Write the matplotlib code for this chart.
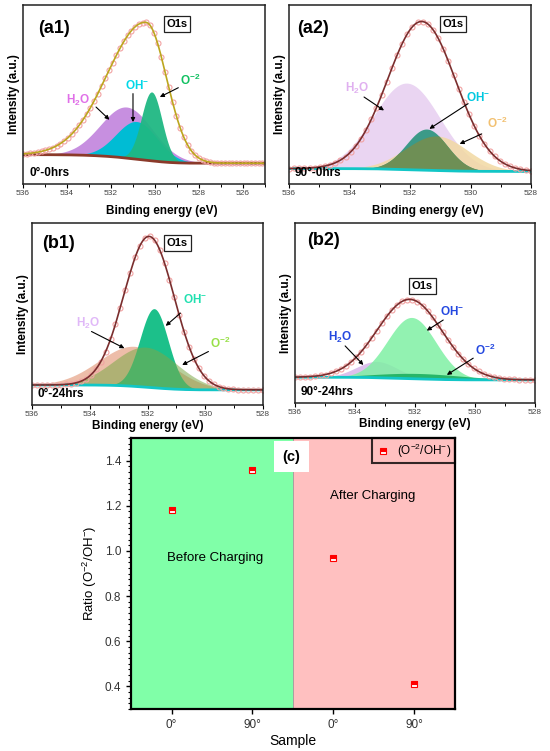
import numpy as np
import matplotlib
matplotlib.use('Agg')
import matplotlib.pyplot as plt
from matplotlib.ticker import MultipleLocator

plt.rcParams['font.family'] = ['Liberation Sans', 'DejaVu Sans']
plt.rcParams['mathtext.fontset'] = 'custom'
plt.rcParams['mathtext.rm'] = 'Liberation Sans'
plt.rcParams['mathtext.bf'] = 'Liberation Sans:bold'
plt.rcParams['mathtext.default'] = 'regular'

# O1s peak fits: order H2O, OH-, O-2
# centre (eV), height (a.u. above baseline), fwhm (eV)
a1_centre = [531.29, 530.83, 530.15]
a1_height = [28.5, 21, 38.5]
a1_fwhm = [2.8, 2.2, 1.1]
# envelope: centre, height, width on high-BE side, width on low-BE side
a1_envelope = [530.4, 77, 4.1, 2.2]
a1_baseline = [16.4, 11.6]

a2_centre = [532.11, 531.45, 531.12]
a2_height = [48.3, 23, 19.3]
a2_fwhm = [2.6, 1.6, 2.4]
a2_envelope = [531.61, 83, 2.65, 2.65]
a2_baseline = [8.6, 7.0]

b1_centre = [532.45, 531.77, 532.06]
b1_height = [22, 43.5, 22]
b1_fwhm = [2.9, 1.15, 2.6]
b1_envelope = [531.94, 83, 2.05, 2.05]
b1_baseline = [11.0, 8.3]

b2_centre = [533.28, 532.11, 531.8]
b2_height = [9, 34, 3]
b2_fwhm = [1.6, 1.9, 3.5]
b2_envelope = [532.17, 44, 2.55, 2.55]
b2_baseline = [14.3, 12.8]

# ratio panel
samples = ['0°', '90°', '0°', '90°']
ratios = [1.18, 1.36, 0.97, 0.41]

names = [r'H$_\mathbf{2}$O', r'OH$^{\mathbf{-}}$', r'O$^{\mathbf{-2}}$']


def gauss(x, c, h, w):
    return h * np.exp(-4 * np.log(2) * (x - c) ** 2 / w ** 2)


def envelope_curve(x, c, h, w_hi, w_lo):
    w = np.where(x > c, w_hi, w_lo)
    return gauss(x, c, h, w)


def shirley(x, env, hi, lo):
    order = np.argsort(x)
    cum = np.cumsum(env[order])
    cum = cum / cum[-1]
    b = np.empty_like(x)
    b[order] = lo + (hi - lo) * cum
    return b


def spectrum(ax, xl, centre, height, fwhm, envelope, baseline, look):
    x = np.linspace(xl[1], xl[0], 700)
    env = envelope_curve(x, *envelope)
    base = shirley(x, env, *baseline)
    comps = [gauss(x, c, h, w) for c, h, w in zip(centre, height, fwhm)]
    for i in look['order']:
        ax.fill_between(x, base, base + comps[i], color=look['fill'][i],
                        alpha=look['alpha'][i], lw=0)
    if look.get('overlap'):
        i, j, col = look['overlap']
        ax.fill_between(x, base, base + np.minimum(comps[i], comps[j]), color=col, lw=0)
    ax.plot(x, base, color=look['base'], lw=2)
    xp = np.arange(xl[0], xl[1], -0.17)
    ep = envelope_curve(xp, *envelope) + np.interp(xp, x, base)
    ax.plot(xp, ep, ls='none', marker='o', ms=3.6, mfc='none', mec='#F2A3A3', mew=0.8)
    ax.plot(x, base + env, color=look['line'], lw=1.2)

    for k in range(3):
        tx, ty = look['text'][k]
        ax.text(tx, ty, names[k], color=look['label'][k], fontsize=8.5,
                fontweight='bold', ha='center', va='center')
        ax.annotate('', xy=look['head'][k], xytext=look['tail'][k],
                    arrowprops=dict(arrowstyle='-|>', color='black', lw=0.8,
                                    mutation_scale=6, shrinkA=0, shrinkB=0))
    ox, oy = look['o1s']
    ax.text(ox, oy, 'O1s', fontsize=8, fontweight='bold', ha='center', va='center',
            bbox=dict(boxstyle='square,pad=0.25', fc='white', ec='#222222', lw=0.9))
    ax.text(look['tag_xy'][0], look['tag_xy'][1], look['tag'], transform=ax.transAxes,
            fontsize=13, fontweight='bold', ha='center', va='center')
    ax.text(0.025, 0.03, look['sample'], transform=ax.transAxes, fontsize=8.5,
            fontweight='bold', ha='left', va='bottom')

    ax.set_xlim(xl)
    ax.set_ylim(0, 100)
    ax.set_yticks([])
    ax.xaxis.set_major_locator(MultipleLocator(2))
    ax.xaxis.set_minor_locator(MultipleLocator(1))
    ax.tick_params(axis='x', which='major', direction='out', length=3, width=0.8,
                   labelsize=6, labelcolor='#444444', pad=1.5)
    ax.tick_params(axis='x', which='minor', direction='out', length=2, width=0.7)
    for s in ax.spines.values():
        s.set_linewidth(1.1)
        s.set_color('#222222')
    ax.set_ylabel('Intensity (a.u.)', fontsize=8.5, fontweight='bold', labelpad=2)
    ax.set_xlabel('Binding energy (eV)', fontsize=8.5, fontweight='bold', labelpad=1.5)


fig = plt.figure(figsize=(5.5, 7.51), dpi=100)

ax1 = fig.add_axes([0.0418, 0.755, 0.44, 0.2383])
spectrum(ax1, (536, 525), a1_centre, a1_height, a1_fwhm, a1_envelope, a1_baseline, dict(
    order=[0, 1, 2], fill=['#C78FE0', '#00BCD4', '#1FB883'], alpha=[1, 1, 0.95],
    label=['#E070E8', '#00D8E8', '#10C060'], line='#BCA61E', base='#8B3A2A',
    text=[(533.5, 46.7), (530.8, 55), (528.4, 58)],
    tail=[(532.68, 43), (531.0, 50.5), (528.94, 53.8)],
    head=[(532.07, 35.9), (531.0, 34.6), (529.78, 48.6)],
    o1s=(529.0, 89.3), tag='(a1)', tag_xy=(0.13, 0.87), sample='0°-0hrs'))
ax1.xaxis.set_label_coords(0.574, -0.12)

ax2 = fig.add_axes([0.5255, 0.755, 0.44, 0.2383])
spectrum(ax2, (536, 528), a2_centre, a2_height, a2_fwhm, a2_envelope, a2_baseline, dict(
    order=[0, 2, 1], fill=['#E9D3F2', '#3C9A88', '#F2D9A2'], alpha=[0.95, 1, 0.85],
    overlap=(1, 2, '#6E8F55'),
    label=['#E0B0F0', '#00C8E0', '#F2C070'], line='#7A2E2E', base='#12C6C6',
    text=[(533.76, 53.2), (529.74, 48.6), (529.13, 33.6)],
    tail=[(533.52, 48.6), (530.08, 44.9), (529.63, 28)],
    head=[(532.86, 41.1), (531.36, 30.8), (530.36, 22.4)],
    o1s=(530.58, 89.3), tag='(a2)', tag_xy=(0.10, 0.87), sample='90°-0hrs'))
ax2.xaxis.set_label_coords(0.574, -0.12)

ax3 = fig.add_axes([0.0582, 0.4607, 0.42, 0.2423])
spectrum(ax3, (536, 528), b1_centre, b1_height, b1_fwhm, b1_envelope, b1_baseline, dict(
    order=[0, 1, 2], fill=['#EBB6A0', '#1CC08A', '#7DA84A'], alpha=[0.9, 1, 0.55],
    label=['#E0B8F8', '#20E0B0', '#98E048'], line='#7A2E2E', base='#12C6C6',
    text=[(534.06, 45), (530.34, 58.2), (529.49, 33.9)],
    tail=[(533.94, 40.4), (530.86, 50.5), (529.89, 29.4)],
    head=[(532.8, 31.2), (531.37, 43.5), (530.8, 22)],
    o1s=(530.97, 89), tag='(b1)', tag_xy=(0.115, 0.89), sample='0°-24hrs'))

ax4 = fig.add_axes([0.5364, 0.4634, 0.4364, 0.2397])
spectrum(ax4, (536, 528), b2_centre, b2_height, b2_fwhm, b2_envelope, b2_baseline, dict(
    order=[0, 1, 2], fill=['#DCC0EC', '#7FF0A4', '#1DB060'], alpha=[1, 0.85, 0.9],
    label=['#2448E0', '#2448E0', '#2448E0'], line='#7A2E2E', base='#12C6C6',
    text=[(534.5, 36.5), (530.78, 50.7), (529.67, 29.4)],
    tail=[(534.33, 31.7), (531.06, 46.1), (530.06, 24.9)],
    head=[(533.72, 21.1), (531.61, 40.2), (530.94, 15.6)],
    o1s=(531.75, 65), tag='(b2)', tag_xy=(0.118, 0.9), sample='90°-24hrs'))

# ratio panel
axc = fig.add_axes([0.2382, 0.0559, 0.589, 0.3609])
pos = np.arange(1, len(ratios) + 1)
axc.axvspan(0.5, 2.5, color='#80FFA8', lw=0, zorder=0)
axc.axvspan(2.5, 4.5, color='#FFC0C0', lw=0, zorder=0)
axc.axvline(2.5, color='#9A9A9A', lw=0.6, zorder=1)
axc.plot(pos, ratios, ls='none', marker='s', ms=4.5, fillstyle='top', mfc='red',
         markerfacecoloralt='white', mec='red', mew=0.8, zorder=3,
         label=r'(O$^{-2}$/OH$^{-}$)')
axc.set_xlim(0.5, 4.5)
axc.set_ylim(0.3, 1.5)
axc.set_xticks(pos)
axc.set_xticklabels(samples)
axc.yaxis.set_major_locator(MultipleLocator(0.2))
axc.yaxis.set_minor_locator(MultipleLocator(0.025))
axc.tick_params(which='major', direction='out', length=3.5, width=1, labelsize=8.5,
                labelcolor='#333333')
axc.tick_params(which='minor', direction='out', length=2, width=0.8)
for s in axc.spines.values():
    s.set_linewidth(1.6)
axc.set_xlabel('Sample', fontsize=10, labelpad=2)
axc.set_ylabel(r'Ratio (O$^{-2}$/OH$^{-}$)', fontsize=9.5)
axc.text(1.54, 0.97, 'Before Charging', fontsize=9.5, ha='center', va='center')
axc.text(3.48, 1.245, 'After Charging', fontsize=9.5, ha='center', va='center')
axc.text(2.48, 1.418, '(c)', fontsize=10.5, fontweight='bold', ha='center', va='center',
         bbox=dict(boxstyle='square,pad=0.6', fc='white', ec='none'))
leg = axc.legend(loc='upper right', fontsize=8.5, frameon=True, fancybox=False,
                 edgecolor='black', facecolor='none', borderaxespad=0,
                 handlelength=1.2, handletextpad=0.6, borderpad=0.3)
leg.get_frame().set_linewidth(1.5)

fig.savefig('out.png', dpi=100)
